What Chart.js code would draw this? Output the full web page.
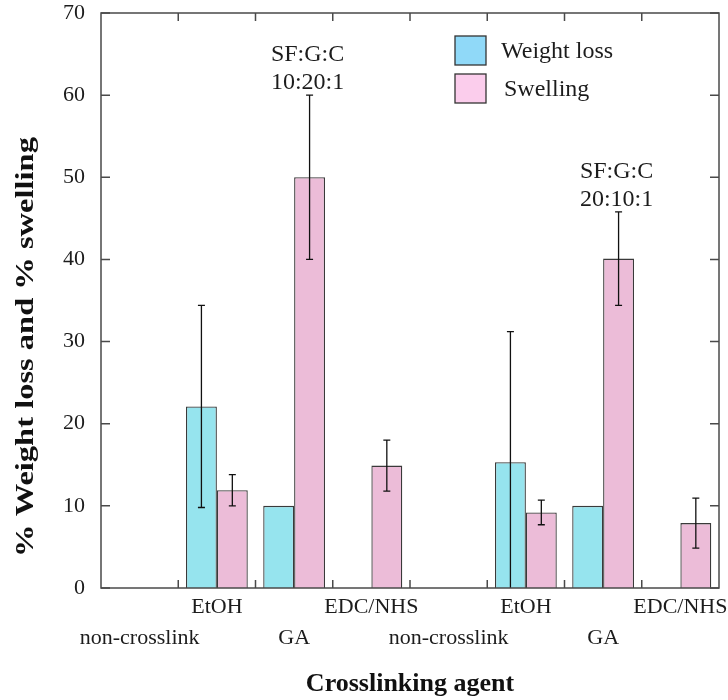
<!DOCTYPE html>
<html><head><meta charset="utf-8">
<script src="https://cdn.jsdelivr.net/npm/chart.js@4/dist/chart.umd.min.js"></script>
<style>html,body{margin:0;padding:0;background:#fff}</style>
</head><body>
<canvas id="c" width="728" height="700"></canvas>
<script>
const categories = ['non-crosslink','EtOH','GA','EDC/NHS','non-crosslink','EtOH','GA','EDC/NHS'];
const seriesNames = ['Weight loss','Swelling'];
const weightLoss = [null, 22.1, 10, null, null, 15.3, 10, null];
const weightLossErr = [0, 12.3, 0, 0, 0, 15.9, 0, 0];
const swelling = [null, 11.9, 50, 14.9, null, 9.2, 40.1, 7.9];
const swellingErr = [0, 1.9, 10, 3.1, 0, 1.5, 5.7, 3.05];
const yTicks = [0,10,20,30,40,50,60,70];
const ratioNotes = [
  {cat: 2, lines: ['SF:G:C','10:20:1']},
  {cat: 6, lines: ['SF:G:C','20:10:1']}
];
const yTitle = '% Weight loss and % swelling';
const xTitle = 'Crosslinking agent';

const FONT = '"Liberation Serif", "Times New Roman", Times, serif';
const TXT = '#1c1c1c';

const decor = {
  id: 'decor',
  afterDatasetsDraw(chart) {
    const ctx = chart.ctx;
    const y = chart.scales.y;
    const errs = [weightLossErr, swellingErr];
    chart.data.datasets.forEach((ds, di) => {
      const meta = chart.getDatasetMeta(di);
      meta.data.forEach((bar, i) => {
        const v = ds.data[i]; const e = errs[di][i];
        if (v == null || !e) return;
        const px = bar.x;
        const yt = y.getPixelForValue(v + e);
        const lo = v - e;
        const yb = y.getPixelForValue(Math.max(0, lo));
        ctx.save();
        ctx.strokeStyle = '#111'; ctx.lineWidth = 1.3;
        ctx.beginPath();
        ctx.moveTo(px, yt); ctx.lineTo(px, yb);
        ctx.moveTo(px - 3.5, yt); ctx.lineTo(px + 3.5, yt);
        if (lo > 0) { ctx.moveTo(px - 3.5, yb); ctx.lineTo(px + 3.5, yb); }
        ctx.stroke();
        ctx.restore();
      });
    });
  },
  afterDraw(chart) {
    const ctx = chart.ctx;
    const ca = chart.chartArea;
    const x = chart.scales.x, y = chart.scales.y;
    ctx.save();
    // frame
    ctx.strokeStyle = '#4a4a4a'; ctx.lineWidth = 1.5;
    ctx.strokeRect(ca.left, ca.top, ca.right - ca.left, ca.bottom - ca.top);
    ctx.beginPath();
    yTicks.forEach(t => {
      const py = y.getPixelForValue(t);
      ctx.moveTo(ca.left, py); ctx.lineTo(ca.left + 9, py);
      ctx.moveTo(ca.right, py); ctx.lineTo(ca.right - 9, py);
    });
    for (let i = 1; i < categories.length; i++) {
      const px = (x.getPixelForValue(i - 1) + x.getPixelForValue(i)) / 2;
      ctx.moveTo(px, ca.bottom); ctx.lineTo(px, ca.bottom - 8);
      ctx.moveTo(px, ca.top); ctx.lineTo(px, ca.top + 8);
    }
    ctx.stroke();

    // ratio annotations
    ctx.fillStyle = TXT;
    ctx.font = '24px ' + FONT;
    ctx.textAlign = 'center'; ctx.textBaseline = 'middle';
    const sMeta = chart.getDatasetMeta(1);
    ratioNotes.forEach(n => {
      const bar = sMeta.data[n.cat];
      const top = y.getPixelForValue(swelling[n.cat] + swellingErr[n.cat]);
      const cx = bar.x - 2;
      ctx.fillText(n.lines[1], cx, top - 12);
      ctx.fillText(n.lines[0], cx, top - 40);
    });

    // legend
    const ds = chart.data.datasets;
    const legendFill = ['#90D9F8', '#FBCDEC'];
    const boxX = 455, boxW = 31, boxH = 29, rows = [36, 74];
    ds.forEach((d, i) => {
      ctx.fillStyle = legendFill[i];
      ctx.fillRect(boxX, rows[i], boxW, boxH);
      ctx.strokeStyle = '#333'; ctx.lineWidth = 1.3;
      ctx.strokeRect(boxX, rows[i], boxW, boxH);
      ctx.fillStyle = TXT;
      ctx.font = '24px ' + FONT;
      ctx.textAlign = 'left'; ctx.textBaseline = 'middle';
      ctx.fillText(d.label, 501 + i * 3, rows[i] + boxH / 2 + 1);
    });

    // y-axis title
    ctx.translate(26, 347);
    ctx.rotate(-Math.PI / 2);
    ctx.scale(1.25, 1);
    ctx.fillStyle = '#111';
    ctx.font = 'bold 26px ' + FONT;
    ctx.textAlign = 'center'; ctx.textBaseline = 'middle';
    ctx.fillText(yTitle, 0, 0);
    ctx.restore();
  }
};

new Chart(document.getElementById('c'), {
  type: 'bar',
  data: {
    labels: categories,
    datasets: [
      {label: seriesNames[0], data: weightLoss, backgroundColor: '#96E4EE', borderColor: '#3a3a3a', borderWidth: 1.3},
      {label: seriesNames[1], data: swelling, backgroundColor: '#ECBCD8', borderColor: '#3a3a3a', borderWidth: 1.3}
    ]
  },
  options: {
    responsive: false, animation: false, devicePixelRatio: 1,
    layout: {padding: 0},
    plugins: {legend: {display: false}, tooltip: {enabled: false}},
    datasets: {bar: {categoryPercentage: 0.8, barPercentage: 1.0}},
    scales: {
      x: {
        grid: {display: false, drawTicks: false}, border: {display: false},
        ticks: {
          autoSkip: false, maxRotation: 0, minRotation: 0, padding: 4, color: TXT,
          font: {family: FONT, size: 22, lineHeight: 1.41},
          callback: (v, i) => i % 2 === 1 ? [categories[i]] : ['', categories[i]]
        },
        title: {display: true, text: xTitle, color: '#111', font: {family: FONT, size: 26, weight: 'bold'}, padding: {top: 0, bottom: 0}},
        afterFit: s => { s.height = 112; s.paddingLeft = 0; s.paddingRight = 9; }
      },
      y: {
        min: 0, max: 70,
        grid: {display: false, drawTicks: false}, border: {display: false},
        afterBuildTicks: s => { s.ticks = yTicks.map(v => ({value: v})); },
        ticks: {padding: 16, color: TXT, font: {family: FONT, size: 22}},
        afterFit: s => { s.width = 101; s.paddingTop = 13; s.paddingBottom = 0; }
      }
    }
  },
  plugins: [decor]
});
</script>
</body></html>
